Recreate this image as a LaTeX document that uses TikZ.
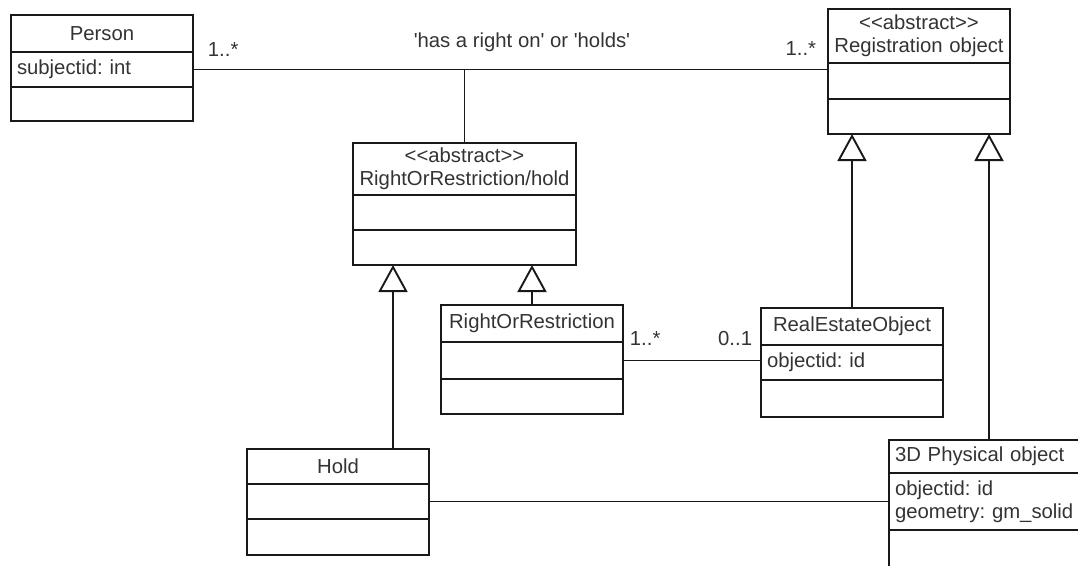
\documentclass[tikz,border=0pt]{standalone}
\usepackage{fontspec}
\setmainfont{Liberation Sans}
\frenchspacing
\usetikzlibrary{positioning, arrows.meta}

\begin{document}
\begin{tikzpicture}[x=1pt, y=-1pt,
    % 通用样式
    every node/.style={font=\fontsize{20.3}{23}\selectfont, text=black!80},
    part/.style={rectangle, draw=black!90, line width=1.9pt, inner xsep=6pt, inner ysep=0pt, outer sep=0pt, text width=170pt},
    clshead/.style={part, align=center},
    clsbody/.style={part, align=left},
    wide/.style={text width=211pt},
    mult/.style={inner sep=0pt},
    % 连线样式
    assoc/.style={line width=1.9pt, draw=black!90},
    gen/.style={-{Triangle[fill=white, length=27pt, width=29pt]}, line width=1.9pt, draw=black!90}
]
\clip (0,0) rectangle (1078,565);

% ====================
% 类
% ====================
% Person
\node[clshead, minimum height=37pt, anchor=north west] (person-t) at (11,15) {Person};
\node[clsbody, minimum height=35pt, below=0pt of person-t] (person-a) {subjectid: int};
\node[clsbody, minimum height=34pt, below=0pt of person-a] (person-o) {};

% Registration object
\node[clshead, minimum height=54pt, anchor=north west] (reg-t) at (828,9) {{<}{<}abstract{>}{>}\\Registration object};
\node[clsbody, minimum height=36pt, below=0pt of reg-t] (reg-a) {};
\node[clsbody, minimum height=35pt, below=0pt of reg-a] (reg-o) {};

% RightOrRestriction/hold
\node[clshead, wide, minimum height=52pt, anchor=north west] (rorh-t) at (353,143) {{<}{<}abstract{>}{>}\\RightOrRestriction/hold};
\node[clsbody, wide, minimum height=35pt, below=0pt of rorh-t] (rorh-a) {};
\node[clsbody, wide, minimum height=35pt, below=0pt of rorh-a] (rorh-o) {};

% RightOrRestriction
\node[clshead, minimum height=37pt, anchor=north west] (ror-t) at (441,305) {RightOrRestriction};
\node[clsbody, minimum height=37pt, below=0pt of ror-t] (ror-a) {};
\node[clsbody, minimum height=35pt, below=0pt of ror-a] (ror-o) {};

% RealEstateObject
\node[clshead, minimum height=37pt, anchor=north west] (reo-t) at (761,308) {RealEstateObject};
\node[clsbody, minimum height=35pt, below=0pt of reo-t] (reo-a) {objectid: id};
\node[clsbody, minimum height=37pt, below=0pt of reo-a] (reo-o) {};

% Hold
\node[clshead, minimum height=35pt, anchor=north west] (hold-t) at (247,449) {Hold};
\node[clsbody, minimum height=35pt, below=0pt of hold-t] (hold-a) {};
\node[clsbody, minimum height=36pt, below=0pt of hold-a] (hold-o) {};

% 3D Physical object
\node[clsbody, text width=188pt, minimum height=33pt, anchor=north west] (phys-t) at (889,440) {3D Physical object};
\node[clsbody, text width=188pt, minimum height=57pt, below=0pt of phys-t] (phys-a) {objectid: id\\geometry: gm\_solid};
\node[clsbody, text width=188pt, minimum height=60pt, below=0pt of phys-a] (phys-o) {};

% ====================
% 关联
% ====================
\draw[assoc] (person-a.east) -- (person-a.east -| reg-t.west)
    node (m1) [mult, pos=0, anchor=base west, xshift=14pt, yshift=13pt] {1..*}
    node (m2) [mult, pos=1, anchor=base east, xshift=-11pt, yshift=14pt] {1..*}
    node (relname) [mult, pos=0.518, anchor=base, yshift=22pt] {\textquotesingle has a right on\textquotesingle{} or \textquotesingle holds\textquotesingle};
\draw[assoc] (rorh-t.north) -- (rorh-t.north |- person-a.east);

\draw[assoc] (ror-a.east) -- (ror-a.east -| reo-a.west)
    node (m3) [mult, pos=0, anchor=base west, xshift=6pt, yshift=15pt] {1..*}
    node (m4) [mult, pos=1, anchor=base east, xshift=-8pt, yshift=15pt] {0..1};

\draw[assoc] (hold-a.east) -- (hold-a.east -| phys-a.west);

% ====================
% 泛化
% ====================
\draw[gen] (reo-t.north) -- (reo-t.north |- reg-o.south);
\draw[gen] (phys-t.north) -- (phys-t.north |- reg-o.south);
\draw[gen] (ror-t.north) -- (ror-t.north |- rorh-o.south);
\coordinate (holdtip) at ([xshift=40pt]rorh-o.south west);
\draw[gen] (hold-t.north -| holdtip) -- (holdtip);

\end{tikzpicture}
\end{document}
